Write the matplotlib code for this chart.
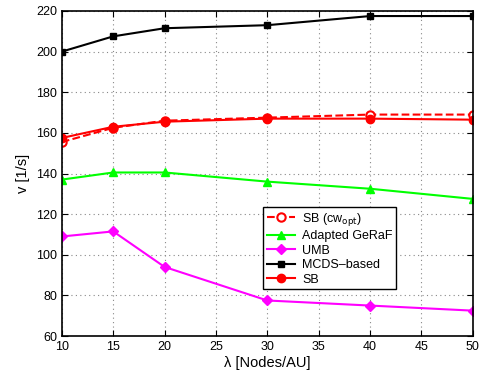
import matplotlib
matplotlib.use('Agg')
import matplotlib.pyplot as plt

plt.rcParams['font.family'] = ['Liberation Sans', 'DejaVu Sans']

nodes = [10, 15, 20, 30, 40, 50]
sb_cwopt = [155.5, 162.5, 166, 167.5, 169, 169]
geraf = [137, 140.5, 140.5, 136, 132.5, 127.5]
umb = [109, 111.5, 94, 77.5, 75, 72.5]
mcds = [200, 207.5, 211.5, 213, 217.5, 217.5]
sb = [157.5, 163, 165.5, 167, 167, 166.5]

fig = plt.figure(figsize=(4.87, 3.78), dpi=100)
ax = fig.add_axes([0.127, 0.111, 0.844, 0.86])

ax.plot(nodes, sb_cwopt, color='red', ls='--', lw=1.5, marker='o', ms=6,
        mfc='white', mec='red', mew=1.5, label='SB (cw$_{\\mathrm{opt}}$)')
ax.plot(nodes, geraf, color='#00ff00', lw=1.5, marker='^', ms=6, label='Adapted GeRaF')
ax.plot(nodes, umb, color='magenta', lw=1.5, marker='D', ms=5, label='UMB')
ax.plot(nodes, mcds, color='black', lw=1.5, marker='s', ms=5, label='MCDS\u2013based')
ax.plot(nodes, sb, color='red', lw=1.5, marker='o', ms=6, label='SB')

ax.set_xlim(10, 50)
ax.set_ylim(60, 220)
ax.set_xticks(range(10, 51, 5))
ax.set_yticks(range(60, 221, 20))
ax.tick_params(direction='in', top=True, right=True, labelsize=9, length=4)
ax.grid(True, ls=(0, (1, 3)), color='#888888', lw=0.8)
for s in ax.spines.values():
    s.set_linewidth(1.2)

ax.set_xlabel('\u03bb [Nodes/AU]', fontsize=10.5, labelpad=2)
ax.set_ylabel('v [1/s]', fontsize=10.5, labelpad=4)

leg = ax.legend(loc='upper left', bbox_to_anchor=(0.49, 0.397), fontsize=9,
                fancybox=False, framealpha=1, edgecolor='black',
                handlelength=2.2, borderpad=0.3, labelspacing=0.2,
                handletextpad=0.6, borderaxespad=0)
leg.get_frame().set_linewidth(1.0)

fig.savefig('out.png', dpi=100)
